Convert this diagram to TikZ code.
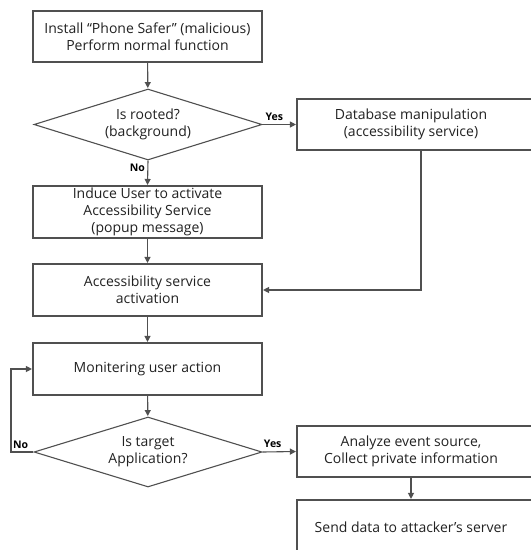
\documentclass[tikz,border=0pt]{standalone}
\usepackage{fontspec}
\setmainfont{Open Sans}
\usetikzlibrary{shapes.geometric,arrows.meta,calc}
\definecolor{linec}{HTML}{505050}
\definecolor{textc}{HTML}{222222}
\begin{document}
\begin{tikzpicture}[x=1pt,y=-1pt,
  font=\fontsize{14}{17}\selectfont, text=textc,
  box/.style={draw=linec, line width=1.1pt, rectangle, inner sep=0pt, minimum height=52pt, align=center},
  dia/.style={draw=linec, line width=1.1pt, diamond, aspect=3.2, inner sep=0pt, minimum width=228pt, minimum height=71pt, align=center},
  arr/.style={draw=linec, line width=1.1pt, -{Triangle[length=6pt,width=6pt]}, shorten >=0.5pt},
  lab/.style={font=\fontsize{10.5}{11}\selectfont\bfseries, text=black}]
\useasboundingbox (0,0) rectangle (531,550);
\clip (0,0) rectangle (531,550);
\fill[white] (0,0) rectangle (531,550);
\node[box, minimum width=229pt, minimum height=51pt] (install) at (147.5,36.5) {Install “Phone Safer” (malicious)\\Perform normal function};
\node[dia] (rooted) at (148,124.5) {Is rooted?\\(background)};
\node[box, minimum width=248pt, minimum height=51pt] (db) at (421,124.5) {\hspace*{-20pt}Database manipulation\\\hspace*{-20pt}(accessibility service)};
\node[box, minimum width=229pt] (induce) at (147.5,212) {Induce User to activate\\Accessibility Service\\(popup message)};
\node[box, minimum width=229pt] (act) at (147.5,290) {Accessibility service\\activation};
\node[box, minimum width=229pt] (mon) at (147.5,369) {Monitering user action};
\node[dia, minimum height=70pt] (target) at (148,452) {Is target\\Application?};
\node[box, minimum width=248pt, minimum height=51pt] (analyze) at (421,451.5) {\hspace*{-20pt}Analyze event source,\\\hspace*{-20pt}Collect private information};
\node[box, minimum width=248pt, minimum height=54pt] (send) at (421,527) {\hspace*{-20pt}Send data to attacker’s server};
\coordinate (loopx) at (11,0);
\draw[arr] (install) -- (rooted);
\draw[arr] (rooted.east) -- node[lab, above, pos=0.35] {Yes} (db.west);
\draw[arr] (rooted.south) -- node[lab, left, pos=0.3, xshift=1pt] {No} (induce.north);
\draw[arr] (induce) -- (act);
\draw[arr] (db.south) |- (act.east);
\draw[arr] (act) -- (mon);
\draw[arr] (mon) -- (target);
\draw[arr] (target.east) -- node[lab, above, pos=0.3] {Yes} (analyze.west);
\draw[arr] ([xshift=-10pt]analyze.south) -- ([xshift=-10pt]send.north);
\draw[arr] (target.west) -- (target.west -| loopx) node[lab, above right, pos=0.5, xshift=-13pt] {No} |- (mon.west);
\end{tikzpicture}
\end{document}
